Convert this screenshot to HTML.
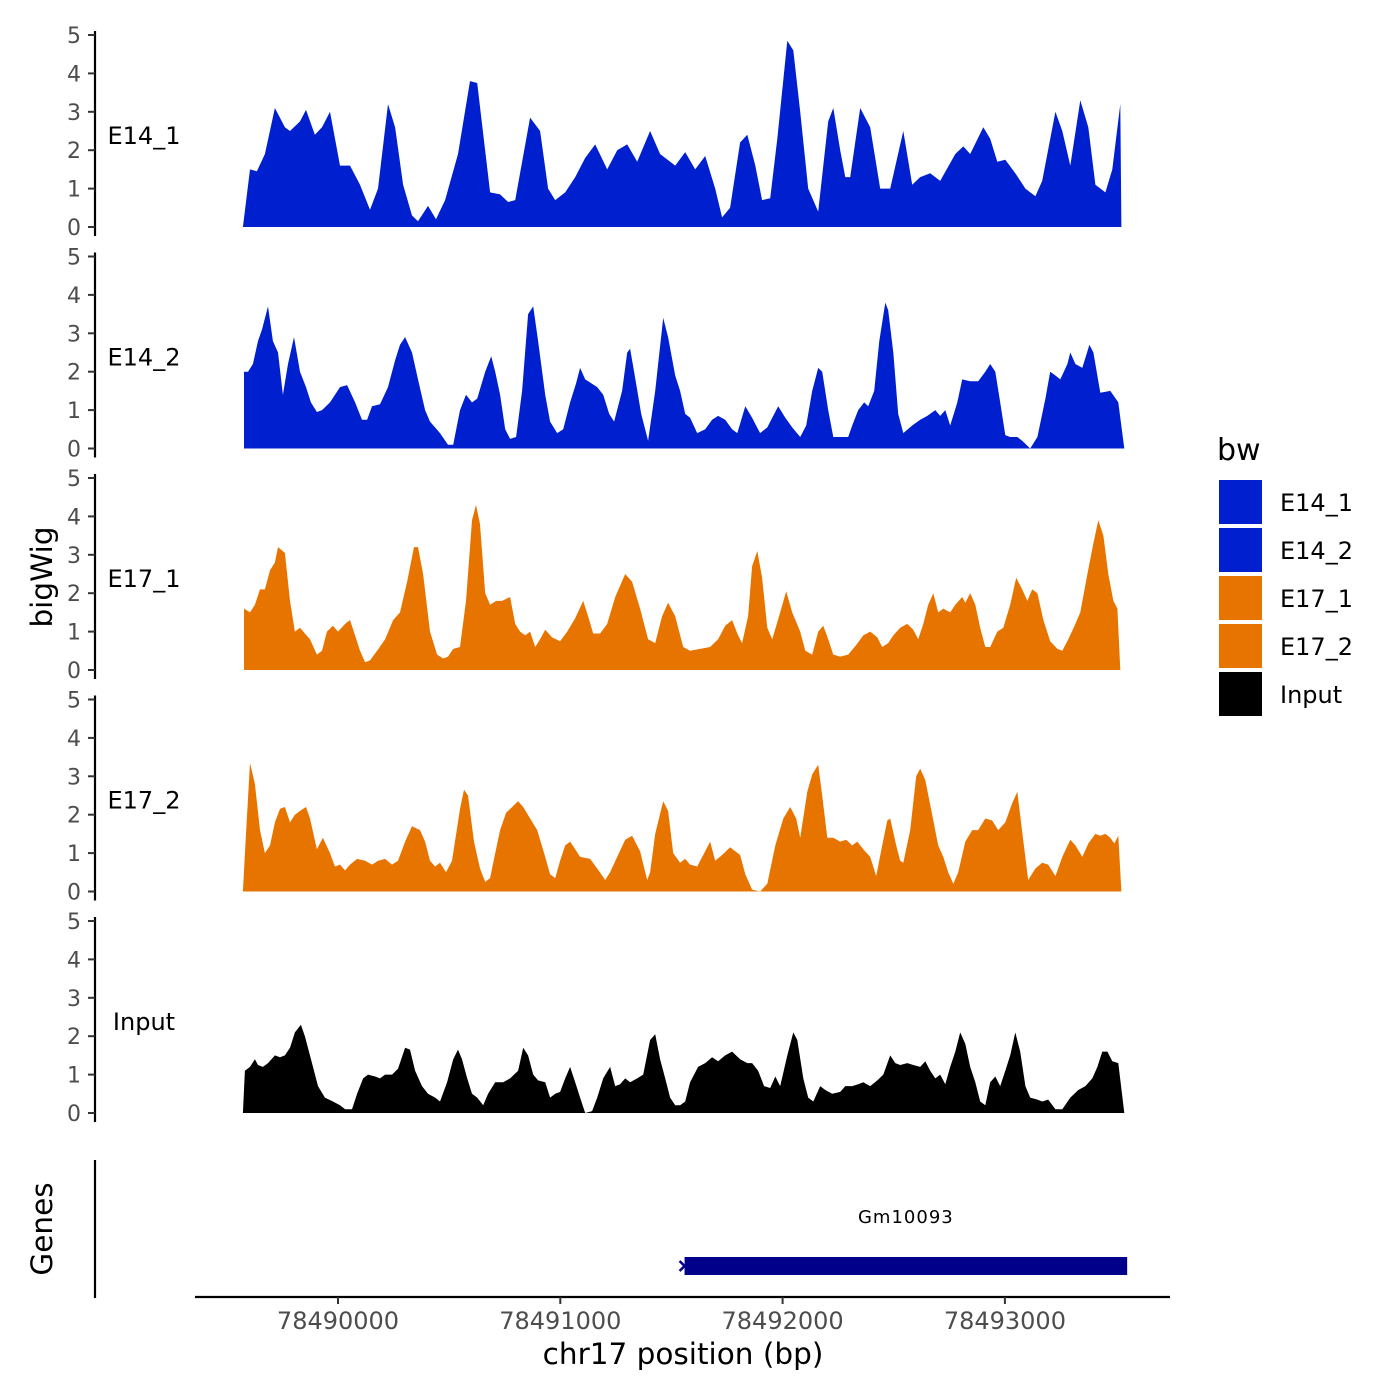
<!DOCTYPE html>
<html><head><meta charset="utf-8"><style>
body{margin:0;background:#fff}
svg{display:block;font-family:"DejaVu Sans","Liberation Sans",sans-serif}
</style></head><body>
<svg id="chart" width="1400" height="1400" viewBox="0 0 1400 1400">
<rect width="1400" height="1400" fill="#fff"/>
<g id="panels"></g>
<text x="52" y="577" font-size="29.5" text-anchor="middle" transform="rotate(-90 52 577)">bigWig</text>
<text x="52" y="1229" font-size="29.5" text-anchor="middle" transform="rotate(-90 52 1229)">Genes</text>
<line x1="95" y1="1160" x2="95" y2="1298" stroke="#000" stroke-width="2.2"/>
<line x1="195" y1="1297" x2="1170" y2="1297" stroke="#000" stroke-width="2.2"/>
<g id="xaxis"></g>
<text x="683" y="1364" font-size="29.5" text-anchor="middle">chr17 position (bp)</text>
<g id="genes"></g>
<g id="legend">
<text x="1217" y="460" font-size="30">bw</text>
</g>
</svg>
<script>
const ANCHOR = 78490000;
const seriesNames = ["E14_1","E14_2","E17_1","E17_2","Input"];
const seriesColors = ["#0020CF","#0020CF","#E87400","#E87400","#000000"];
const xTicks = [78490000,78491000,78492000,78493000];
const yTicks = [0,1,2,3,4,5];
const geneName = ["Gm10093"];
const geneStart = [78491550];
const geneEnd = [78493550];

const e14_1_pos = [-428,-396,-365,-329,-284,-239,-216,-171,-144,-104,-72,-36,9,54,99,144,180,225,257,293,333,360,405,441,482,540,594,626,684,729,765,797,864,909,945,977,1022,1067,1112,1157,1211,1256,1301,1346,1404,1449,1517,1562,1607,1652,1697,1728,1764,1809,1841,1877,1908,1944,1976,2021,2048,2079,2115,2160,2205,2228,2259,2282,2304,2349,2394,2439,2484,2543,2583,2619,2664,2709,2777,2813,2844,2903,2934,2966,3002,3047,3092,3137,3168,3227,3258,3294,3339,3375,3407,3452,3483,3519,3524];
const e14_1_val = [0,1.5,1.45,1.9,3.1,2.6,2.5,2.75,3.05,2.4,2.6,3.0,1.6,1.6,1.1,0.45,1.0,3.2,2.6,1.1,0.3,0.15,0.55,0.2,0.7,1.9,3.8,3.75,0.9,0.85,0.65,0.7,2.85,2.5,1.0,0.7,0.9,1.3,1.8,2.15,1.5,2.0,2.15,1.7,2.5,1.9,1.6,1.95,1.5,1.85,1.0,0.25,0.5,2.2,2.4,1.6,0.7,0.75,2.3,4.85,4.6,3.0,1.0,0.4,2.75,3.1,2.0,1.3,1.3,3.1,2.6,1.0,1.0,2.5,1.1,1.3,1.4,1.2,1.9,2.1,1.9,2.6,2.3,1.7,1.75,1.4,1.0,0.8,1.2,3.0,2.5,1.6,3.3,2.6,1.1,0.9,1.5,3.2,0];

const e14_2_pos = [-423,-405,-383,-360,-342,-315,-293,-270,-248,-225,-198,-171,-144,-122,-95,-72,-36,9,41,77,108,131,153,189,225,257,279,302,333,360,392,414,459,495,518,549,576,603,626,662,689,707,729,752,774,801,828,855,878,900,932,954,986,1013,1044,1071,1089,1112,1139,1166,1193,1220,1242,1278,1301,1314,1332,1364,1395,1427,1463,1485,1517,1539,1562,1584,1616,1652,1683,1710,1742,1773,1796,1832,1863,1899,1931,1980,2012,2043,2079,2106,2133,2160,2178,2205,2228,2295,2313,2340,2367,2385,2412,2435,2462,2475,2498,2520,2543,2583,2619,2651,2687,2709,2732,2754,2786,2808,2844,2880,2912,2934,2957,2979,3002,3024,3056,3078,3114,3146,3182,3204,3227,3249,3281,3294,3317,3348,3380,3398,3429,3474,3510,3537];
const e14_2_val = [2.0,2.0,2.2,2.8,3.1,3.7,2.8,2.5,1.4,2.2,2.9,2.0,1.6,1.2,0.95,1.0,1.2,1.6,1.65,1.2,0.75,0.75,1.1,1.15,1.6,2.3,2.7,2.9,2.5,1.8,1.0,0.7,0.4,0.1,0.1,1.0,1.4,1.2,1.3,2.0,2.4,2.0,1.4,0.5,0.25,0.3,1.5,3.5,3.7,2.8,1.4,0.7,0.4,0.5,1.2,1.7,2.1,1.8,1.7,1.6,1.4,0.9,0.7,1.5,2.5,2.6,2.0,0.9,0.2,1.5,3.4,2.9,1.9,1.5,0.9,0.8,0.4,0.5,0.75,0.85,0.75,0.5,0.4,1.1,0.8,0.4,0.55,1.1,0.8,0.55,0.3,0.6,1.5,2.1,2.0,1.0,0.3,0.3,0.6,1.0,1.2,1.1,1.5,2.8,3.8,3.6,2.5,0.9,0.4,0.6,0.75,0.85,1.0,0.85,1.0,0.6,1.2,1.8,1.75,1.75,2.0,2.2,2.0,1.2,0.35,0.3,0.3,0.2,0.0,0.3,1.3,2.0,1.9,1.8,2.2,2.5,2.2,2.1,2.7,2.5,1.45,1.5,1.2,0];

const e17_1_pos = [-423,-396,-374,-351,-329,-306,-284,-270,-239,-216,-194,-171,-149,-126,-95,-72,-50,-23,0,32,54,77,99,122,144,176,212,248,279,311,342,360,383,414,446,473,495,518,549,576,603,621,639,662,684,711,738,774,797,819,842,864,887,909,932,963,999,1031,1067,1103,1125,1148,1179,1211,1247,1292,1323,1359,1395,1427,1458,1485,1517,1553,1584,1629,1674,1710,1742,1773,1800,1818,1845,1863,1886,1908,1931,1953,1989,2016,2043,2079,2102,2133,2160,2183,2205,2228,2259,2295,2331,2363,2394,2426,2448,2475,2498,2529,2561,2588,2610,2633,2655,2678,2700,2723,2754,2777,2808,2822,2844,2867,2889,2912,2934,2966,2993,3024,3051,3078,3101,3123,3146,3173,3204,3236,3258,3285,3317,3339,3371,3398,3420,3443,3465,3488,3506,3519];
const e17_1_val = [1.6,1.5,1.7,2.1,2.1,2.6,2.8,3.2,3.05,1.8,1.0,1.1,0.95,0.8,0.4,0.5,1.0,1.15,1.0,1.2,1.3,0.9,0.5,0.2,0.25,0.5,0.8,1.3,1.5,2.3,3.2,3.2,2.5,1.0,0.4,0.3,0.35,0.55,0.6,1.8,3.9,4.3,3.8,2.0,1.7,1.8,1.8,1.9,1.2,1.0,0.9,1.0,0.6,0.8,1.05,0.85,0.75,1.0,1.35,1.8,1.4,0.95,0.95,1.2,1.9,2.5,2.3,1.6,0.8,0.7,1.4,1.75,1.4,0.6,0.5,0.55,0.6,0.8,1.15,1.3,0.9,0.7,1.4,2.7,3.1,2.4,1.1,0.8,1.5,2.05,1.5,1.0,0.5,0.4,1.0,1.15,0.8,0.4,0.35,0.4,0.65,0.9,1.0,0.85,0.6,0.7,0.9,1.1,1.2,1.05,0.8,1.2,1.7,2.0,1.5,1.6,1.5,1.7,1.9,1.75,2.0,1.7,1.1,0.6,0.6,1.0,1.1,1.7,2.4,2.1,1.8,2.1,2.0,1.3,0.75,0.55,0.5,0.8,1.2,1.5,2.5,3.3,3.9,3.5,2.5,1.8,1.6,0];

const e17_2_pos = [-428,-414,-396,-374,-351,-329,-306,-284,-261,-239,-216,-194,-171,-144,-126,-95,-68,-36,-14,9,32,54,86,122,153,180,212,243,270,302,333,369,392,414,437,459,486,513,549,567,585,612,639,662,684,707,729,756,783,810,833,864,896,932,954,977,999,1022,1044,1067,1089,1134,1166,1202,1224,1256,1292,1323,1359,1391,1404,1427,1463,1485,1508,1539,1562,1584,1616,1652,1674,1697,1728,1764,1787,1809,1832,1863,1899,1931,1967,2003,2034,2061,2079,2111,2133,2160,2178,2201,2228,2259,2286,2313,2336,2363,2394,2421,2448,2471,2484,2511,2529,2543,2574,2601,2619,2642,2673,2700,2723,2745,2768,2790,2822,2853,2880,2912,2943,2970,3002,3033,3056,3083,3105,3137,3168,3195,3227,3258,3294,3317,3348,3375,3407,3429,3452,3474,3492,3510,3524];
const e17_2_val = [0,1.5,3.35,2.8,1.6,1.0,1.2,1.8,2.15,2.2,1.8,2.0,2.1,2.2,1.9,1.1,1.4,1.0,0.65,0.7,0.55,0.7,0.85,0.8,0.7,0.8,0.85,0.7,0.8,1.3,1.7,1.6,1.3,0.8,0.65,0.75,0.5,0.8,2.15,2.65,2.5,1.3,0.6,0.25,0.35,1.0,1.6,2.05,2.2,2.35,2.2,1.9,1.6,0.9,0.45,0.35,0.8,1.2,1.3,1.1,0.9,0.85,0.6,0.3,0.5,0.9,1.35,1.45,1.05,0.3,0.5,1.5,2.35,2.1,1.0,0.75,0.85,0.7,0.65,1.05,1.3,0.8,0.95,1.15,1.05,0.95,0.45,0.05,0.0,0.2,1.2,1.9,2.2,1.9,1.4,2.6,3.05,3.3,2.5,1.4,1.4,1.3,1.35,1.2,1.3,1.1,0.9,0.4,1.2,1.85,1.9,1.2,0.8,0.75,1.6,3.0,3.2,2.9,2.0,1.2,0.9,0.5,0.2,0.5,1.3,1.6,1.6,1.9,1.85,1.6,1.8,2.3,2.6,1.3,0.3,0.6,0.75,0.7,0.4,0.9,1.35,1.2,0.9,1.25,1.5,1.45,1.5,1.4,1.25,1.45,0];

const input_pos = [-428,-419,-396,-374,-360,-338,-315,-284,-261,-239,-216,-194,-167,-149,-117,-90,-59,-23,9,32,63,86,113,135,167,189,212,243,270,302,324,347,378,405,437,459,491,518,540,558,581,603,626,653,675,707,743,774,810,833,855,878,900,932,954,977,999,1022,1044,1067,1089,1112,1143,1166,1193,1224,1247,1269,1292,1314,1346,1373,1404,1427,1449,1472,1494,1517,1539,1562,1584,1620,1652,1683,1710,1742,1773,1809,1841,1863,1890,1917,1944,1967,1989,2021,2048,2066,2093,2115,2138,2169,2192,2223,2259,2282,2313,2340,2363,2394,2426,2453,2484,2507,2529,2561,2588,2619,2642,2664,2687,2709,2732,2754,2777,2799,2822,2844,2867,2889,2912,2934,2957,2979,3002,3024,3047,3069,3092,3114,3146,3168,3195,3227,3258,3294,3330,3362,3393,3416,3438,3461,3483,3510,3537];
const input_val = [0,1.1,1.2,1.4,1.25,1.2,1.3,1.5,1.45,1.5,1.7,2.1,2.3,2.0,1.3,0.7,0.4,0.3,0.2,0.1,0.1,0.5,0.9,1.0,0.95,0.9,1.0,1.0,1.15,1.7,1.65,1.1,0.7,0.5,0.4,0.3,0.8,1.4,1.65,1.4,0.9,0.5,0.4,0.2,0.5,0.8,0.8,0.9,1.1,1.7,1.5,1.0,0.85,0.8,0.4,0.5,0.55,0.9,1.2,0.8,0.4,0.0,0.05,0.4,0.9,1.2,0.7,0.75,0.9,0.8,0.9,1.0,1.9,2.05,1.4,0.9,0.4,0.2,0.2,0.3,0.8,1.2,1.3,1.45,1.35,1.5,1.6,1.4,1.3,1.3,1.1,0.7,0.65,0.95,0.7,1.5,2.1,1.9,0.9,0.4,0.3,0.7,0.6,0.5,0.55,0.7,0.7,0.75,0.8,0.7,0.85,1.0,1.5,1.3,1.25,1.3,1.25,1.2,1.35,1.1,0.9,1.0,0.75,1.2,1.6,2.1,1.8,1.2,0.8,0.3,0.2,0.8,0.95,0.7,1.1,1.5,2.1,1.6,0.7,0.4,0.35,0.3,0.35,0.1,0.1,0.4,0.6,0.7,0.9,1.2,1.6,1.6,1.35,1.3,0];

const allPos = [e14_1_pos,e14_2_pos,e17_1_pos,e17_2_pos,input_pos];
const allVal = [e14_1_val,e14_2_val,e17_1_val,e17_2_val,input_val];

const NS = "http://www.w3.org/2000/svg";
function xScale(bp){ return 338 + (bp - 78490000) * 0.2223; }
const panelBase = [227, 448.5, 670, 891.5, 1113];
const unit = 38.4;
function yScale(p, v){ return panelBase[p] - v * unit; }
function mk(tag, attrs, parent){ const e = document.createElementNS(NS, tag); for (const k in attrs) e.setAttribute(k, attrs[k]); parent.appendChild(e); return e; }

const panels = document.getElementById('panels');
for (let p = 0; p < seriesNames.length; p++) {
  const g = mk('g', {}, panels);
  
  
  const pos = allPos[p], val = allVal[p];
  let d = 'M' + xScale(ANCHOR + pos[0]).toFixed(1) + ',' + panelBase[p];
  for (let i = 0; i < pos.length; i++) d += 'L' + xScale(ANCHOR + pos[i]).toFixed(1) + ',' + yScale(p, val[i]).toFixed(1);
  d += 'L' + xScale(ANCHOR + pos[pos.length-1]).toFixed(1) + ',' + panelBase[p] + 'Z';
  const area = mk('path', {d: d, fill: seriesColors[p]}, g);
  
  
  const ax = mk('line', {x1: 95, x2: 95, y1: yScale(p, 5) - 4, y2: panelBase[p] + 9, stroke: '#000', 'stroke-width': 2.2}, g);
  
  
  for (const t of yTicks) {
    const y = yScale(p, t);
    const tk = mk('line', {x1: 88, x2: 95, y1: y, y2: y, stroke: '#333', 'stroke-width': 2}, g);
    
    
    const tl = mk('text', {x: 81, y: y + 8, 'font-size': 22, fill: '#4d4d4d', 'text-anchor': 'end'}, g);
    tl.textContent = t;
    
    
  }
  const lab = mk('text', {x: 144, y: yScale(p, 2.4) + 9, 'font-size': 24, 'text-anchor': 'middle'}, g);
  lab.textContent = seriesNames[p];
  
  
}

const xa = document.getElementById('xaxis');
for (const t of xTicks) {
  const x = xScale(t);
  const tk = mk('line', {x1: x, x2: x, y1: 1297, y2: 1304, stroke: '#333', 'stroke-width': 2}, xa);
  
  
  const tl = mk('text', {x: x, y: 1329, 'font-size': 24, fill: '#4d4d4d', 'text-anchor': 'middle'}, xa);
  tl.textContent = t;
  
  
}

const gg = document.getElementById('genes');
for (let i = 0; i < geneName.length; i++) {
  const x1 = xScale(geneStart[i]) + 2, x2 = xScale(geneEnd[i]);
  const r = mk('rect', {x: x1, y: 1257, width: x2 - x1, height: 18, fill: '#00008B'}, gg);
  
  
  const m = mk('path', {d: 'M' + (x1-5) + ',1261L' + (x1) + ',1266L' + (x1-5) + ',1271', stroke: '#00008B', 'stroke-width': 2.5, fill: 'none'}, gg);
  
  
  const t = mk('text', {x: (x1 + x2) / 2, y: 1223, 'font-size': 18, 'text-anchor': 'middle', 'letter-spacing': '1'}, gg);
  t.textContent = geneName[i];
  
  
}

const lg = document.getElementById('legend');
for (let i = 0; i < seriesNames.length; i++) {
  const y = 480 + i * 48;
  const r = mk('rect', {x: 1219, y: y, width: 43, height: 44, fill: seriesColors[i]}, lg);
  
  
  const t = mk('text', {x: 1280, y: y + 31, 'font-size': 24}, lg);
  t.textContent = seriesNames[i];
  
  
}
</script>
</body></html>
